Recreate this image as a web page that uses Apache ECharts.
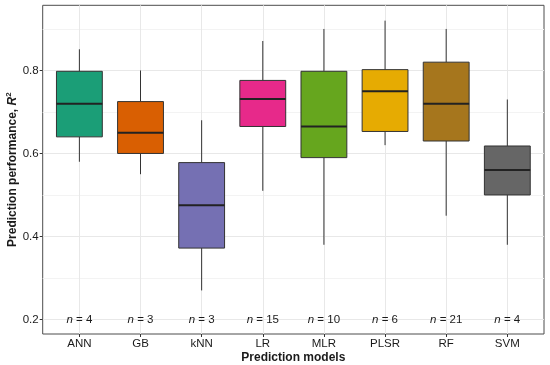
<!DOCTYPE html>
<html>
<head>
<meta charset="utf-8">
<script src="https://cdn.jsdelivr.net/npm/echarts@6/dist/echarts.min.js"></script>
<style>html,body{margin:0;padding:0;background:#fff}#c{width:550px;height:365px}</style>
</head>
<body>
<div id="c"></div>
<script>
const categories = ['ANN', 'GB', 'kNN', 'LR', 'MLR', 'PLSR', 'RF', 'SVM'];
const lowerWhisker = [0.58, 0.55, 0.27, 0.51, 0.38, 0.62, 0.45, 0.38];
const q1 = [0.64, 0.60, 0.372, 0.665, 0.59, 0.653, 0.63, 0.50];
const median = [0.72, 0.65, 0.475, 0.731, 0.665, 0.75, 0.72, 0.56];
const q3 = [0.798, 0.725, 0.578, 0.776, 0.798, 0.802, 0.82, 0.618];
const upperWhisker = [0.851, 0.80, 0.68, 0.871, 0.90, 0.92, 0.90, 0.73];
const nCounts = [4, 3, 3, 15, 10, 6, 21, 4];
const colors = ['#1B9E77', '#D95F02', '#7570B3', '#E7298A', '#66A61E', '#E6AB02', '#A6761D', '#666666'];
const yTicks = [0.2, 0.4, 0.6, 0.8];
const xTicks = categories.map((c, i) => i);
const nLabelY = 0.2;

const boxData = categories.map((c, i) => [i, lowerWhisker[i], q1[i], median[i], q3[i], upperWhisker[i]]);
const nData = categories.map((c, i) => [i, nLabelY, nCounts[i]]);

const chart = echarts.init(document.getElementById('c'), null, {renderer: 'canvas'});
const fontFam = '"Liberation Sans", Arial, Helvetica, sans-serif';

chart.setOption({
  backgroundColor: '#ffffff',
  animation: false,
  grid: {
    left: 42.7, right: 6, top: 5.3, bottom: 31,
    containLabel: false, outerBoundsMode: 'none',
    show: true, borderColor: '#4d4d4d', borderWidth: 1, backgroundColor: 'transparent'
  },
  xAxis: {
    type: 'value', min: -0.6, max: 7.6, splitNumber: 8,
    axisLine: {show: false, onZero: false},
    axisTick: {show: true, length: 3, customValues: xTicks, lineStyle: {color: '#333'}},
    axisLabel: {
      customValues: xTicks, margin: 4,
      formatter: v => categories[Math.round(v)] || '',
      color: '#1a1a1a', fontSize: 11.5, fontFamily: fontFam
    },
    splitLine: {show: true, lineStyle: {color: '#e8e8e8', width: 1}},
    name: 'Prediction models', nameLocation: 'middle', nameGap: 17.5, nameMoveOverlap: false,
    nameTextStyle: {fontWeight: 'bold', fontSize: 12, color: '#1a1a1a', fontFamily: fontFam}
  },
  yAxis: {
    type: 'value', min: 0.165, max: 0.957, splitNumber: 4,
    axisLine: {show: false, onZero: false},
    axisTick: {show: true, length: 3, customValues: yTicks, lineStyle: {color: '#333'}},
    axisLabel: {
      customValues: yTicks, margin: 4,
      formatter: v => v.toFixed(1),
      color: '#1a1a1a', fontSize: 11.5, fontFamily: fontFam
    },
    splitLine: {show: true, lineStyle: {color: '#e8e8e8', width: 1}},
    minorTick: {show: false, splitNumber: 2},
    minorSplitLine: {show: true, lineStyle: {color: '#f3f3f3', width: 1}},
    name: '{b|Prediction performance, }{r|R}{s|2}',
    nameLocation: 'middle', nameGap: 22, nameMoveOverlap: false,
    nameTextStyle: {
      fontWeight: 'bold', fontSize: 12, color: '#1a1a1a', fontFamily: fontFam,
      rich: {
        b: {fontWeight: 'bold', fontSize: 12, color: '#1a1a1a', fontFamily: fontFam},
        r: {fontWeight: 'bold', fontStyle: 'italic', fontSize: 12, color: '#1a1a1a', fontFamily: fontFam},
        s: {fontWeight: 'bold', fontSize: 8, color: '#1a1a1a', fontFamily: fontFam, verticalAlign: 'top', padding: [0, 0, 8, 0]}
      }
    }
  },
  series: [
    {
      type: 'custom',
      data: boxData,
      encode: {x: 0, y: [1, 2, 3, 4, 5]},
      renderItem: function (params, api) {
        const i = api.value(0);
        const bw = api.size([1, 0])[0] * 0.75;
        const pLo = api.coord([i, api.value(1)]);
        const pQ1 = api.coord([i, api.value(2)]);
        const pMed = api.coord([i, api.value(3)]);
        const pQ3 = api.coord([i, api.value(4)]);
        const pHi = api.coord([i, api.value(5)]);
        const x = pMed[0];
        const stroke = '#333333';
        return {
          type: 'group',
          children: [
            {type: 'line', shape: {x1: x, y1: pHi[1], x2: x, y2: pQ3[1]}, style: {stroke: stroke, lineWidth: 1}},
            {type: 'line', shape: {x1: x, y1: pQ1[1], x2: x, y2: pLo[1]}, style: {stroke: stroke, lineWidth: 1}},
            {type: 'rect', shape: {x: x - bw / 2, y: pQ3[1], width: bw, height: pQ1[1] - pQ3[1]},
              style: {fill: colors[params.dataIndex], stroke: stroke, lineWidth: 1}},
            {type: 'line', shape: {x1: x - bw / 2, y1: pMed[1], x2: x + bw / 2, y2: pMed[1]},
              style: {stroke: '#222222', lineWidth: 2}}
          ]
        };
      },
      z: 3
    },
    {
      type: 'custom',
      data: nData,
      encode: {x: 0, y: 1},
      renderItem: function (params, api) {
        const p = api.coord([api.value(0), api.value(1)]);
        return {
          type: 'text',
          style: {
            x: p[0], y: p[1],
            text: '{i|n} = ' + api.value(2),
            align: 'center', verticalAlign: 'middle',
            fontSize: 11.5, fontFamily: fontFam, fill: '#1a1a1a',
            rich: {i: {fontStyle: 'italic', fontSize: 11.5, fontFamily: fontFam, fill: '#1a1a1a'}}
          }
        };
      },
      z: 4
    }
  ]
});
</script>
</body>
</html>
